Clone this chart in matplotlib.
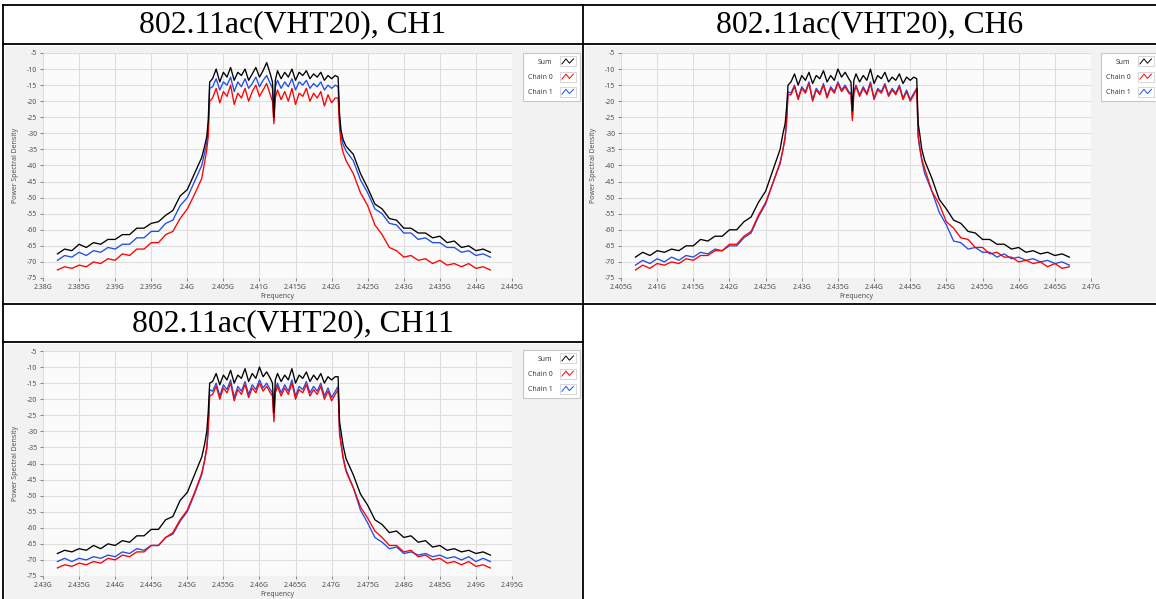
import matplotlib
matplotlib.use("Agg")
import matplotlib.pyplot as plt
from matplotlib.lines import Line2D
from matplotlib.patches import Rectangle
from matplotlib.legend_handler import HandlerBase
from matplotlib.ticker import MultipleLocator, FuncFormatter

# frequency offsets from the channel centre (MHz), shared by every trace
freq_offsets_mhz = [
    -30, -29, -28, -27, -26, -25, -24, -23, -22, -21, -20, -19, -18, -17, -16, -15, -14, -13, -12, -11, -10,
    -9.6, -9.3, -9.1, -8.9,
    -8.5, -8, -7.5, -7, -6.5, -6, -5.5, -5, -4.5, -4, -3.5, -3, -2.5, -2, -1.5, -1, -0.5,
    -0.2, 0, 0.2,
    0.5, 1, 1.5, 2, 2.5, 3, 3.5, 4, 4.5, 5, 5.5, 6, 6.5, 7, 7.5, 8, 8.5,
    8.9, 9.1, 9.3, 9.6,
    10, 11, 12, 13, 14, 15, 16, 17, 18, 19, 20, 21, 22, 23, 24, 25, 26, 27, 28, 29, 30,
]

titles = ["802.11ac(VHT20), CH1", "802.11ac(VHT20), CH6", "802.11ac(VHT20), CH11"]
centers_ghz = [2.412, 2.437, 2.462]
x_limits = [(2.38, 2.445), (2.405, 2.47), (2.43, 2.495)]
y_limits = (-75, -5)
series_names = ["Sum", "Chain 0", "Chain 1"]

# CH1
sum_ch1 = [
    -67.5, -66, -66.5, -64.5, -65.5, -64, -64.5, -63, -63, -61.5, -61.5, -59.5, -59.5, -58, -57.5, -55.5, -54, -49.5, -47.5, -42.5, -37.5,
    -34, -31, -26, -14,
    -13, -10, -14, -11, -12.5, -9.5, -13.5, -11, -12, -10, -13.5, -11.5, -9.5, -12.5, -10.5, -8, -11.5,
    -14, -25, -13.5,
    -10.5, -13, -11, -12.5, -10, -13.5, -11, -12, -10.5, -13, -11.5, -12.5, -11, -13.5, -12, -13, -12,
    -12.5, -24, -29, -32,
    -34, -36.5, -42.5, -47, -52, -53.5, -56.5, -57, -59.5, -59.5, -61, -61, -62.5, -62, -64, -63.5, -65.5, -65, -66.5, -66, -67,
]
chain0_ch1 = [
    -72.5, -71.5, -72, -71, -71.5, -70, -70.5, -69, -69.5, -67.5, -68, -66, -66, -64, -64, -61.5, -60.5, -56.5, -53.5, -49, -44,
    -39, -35, -31, -20,
    -19, -16, -20.5, -17, -18.5, -15, -21, -17.5, -19, -16, -20, -17, -15, -18.5, -16.5, -14.5, -18,
    -20, -27, -19,
    -16.5, -19.5, -17, -20, -16, -21, -17.5, -18.5, -16, -20, -17.5, -19, -17, -21.5, -18, -20.5, -19,
    -19, -28, -33, -36,
    -38.5, -42.5, -48.5, -52.5, -58.5, -61.5, -65.5, -66.5, -68.5, -68, -69.5, -69, -70.5, -69.5, -71, -70.5, -71.5, -70.5, -72, -71.5, -72.5,
]
chain1_ch1 = [
    -69.5, -68, -68.5, -67, -68, -66.5, -67, -65.5, -66, -64.5, -64.5, -62.5, -62.5, -60.5, -60.5, -58, -57, -52.5, -50, -45, -40,
    -36, -33, -28, -16,
    -15.5, -13, -16.5, -14, -15, -12.5, -17, -14, -15.5, -13, -16, -14.5, -12.5, -15.5, -13.5, -12, -14.5,
    -16, -26, -15.5,
    -13.5, -16, -14, -15.5, -13, -16.5, -14, -15, -13.5, -16, -14.5, -15.5, -14, -16.5, -15, -16, -15,
    -15.5, -26, -31, -33.5,
    -35.5, -38.5, -44.5, -48.5, -53.5, -55, -58, -58.5, -61, -61, -63, -62.5, -64, -64, -65.5, -65.5, -67, -66.5, -68, -67.5, -68.5,
]

# CH6
sum_ch6 = [
    -68.5, -67, -68, -66.5, -67, -66, -66.5, -65, -65, -63, -63.5, -62, -62, -60, -60, -57.5, -56, -51.5, -48, -41.5, -35,
    -30, -27, -22, -15,
    -14, -11.5, -15, -12, -13.5, -11, -14.5, -12, -13, -10.5, -14, -12, -13.5, -10, -12.5, -11, -13,
    -14, -23, -13.5,
    -11.5, -14, -12, -13.5, -10, -14.5, -12, -13, -11, -14, -12.5, -13.5, -11.5, -14.5, -12.5, -13.5, -12.5,
    -13, -27, -30, -35,
    -38.5, -44, -50.5, -53.5, -57, -58, -60.5, -61, -63, -63, -64.5, -64.5, -66, -65.5, -67, -66.5, -67.5, -67, -68, -67.5, -68.5,
]
chain0_ch6 = [
    -72.5, -71, -72, -70.5, -71, -70, -70.5, -69, -69.5, -68, -68, -66.5, -66.5, -64.5, -64.5, -62, -60.5, -55.5, -51.5, -45.5, -39,
    -35, -31, -26, -18,
    -18, -15.5, -19.5, -16, -17.5, -14.5, -20, -16.5, -18, -15, -19, -16, -17.5, -14.5, -17, -15.5, -17.5,
    -18, -26, -17.5,
    -15.5, -18.5, -16, -18, -14.5, -19.5, -16.5, -17.5, -15, -18.5, -16.5, -18, -15.5, -19.5, -17, -20, -18,
    -16, -31, -34, -38,
    -41, -48, -52, -57.5, -59.5, -62.5, -63, -65.5, -65.5, -67.5, -67, -68.5, -68.5, -70, -69.5, -70.5, -70, -71.5, -70.5, -72, -71.5,
]
chain1_ch6 = [
    -71, -69.5, -70.5, -69, -70, -68.5, -69.5, -68, -68.5, -67, -67.5, -66, -66.5, -65, -65, -62.5, -61, -56, -52, -45.5, -39.5,
    -35, -31.5, -26.5, -17,
    -17.5, -15, -19, -15.5, -17, -14, -19.5, -16, -17.5, -14.5, -18.5, -15.5, -17, -14, -16.5, -15, -17,
    -17.5, -25, -17,
    -15, -18, -15.5, -17.5, -14, -19, -16, -17, -14.5, -18, -16, -17.5, -15, -19, -16.5, -19.5, -17.5,
    -16, -31, -34.5, -38.5,
    -42.5, -48, -54.5, -58.5, -63.5, -64, -66, -65.5, -67, -67, -68.5, -67.5, -69, -68.5, -69.5, -69, -70, -69.5, -70.5, -70, -71,
]

# CH11
sum_ch11 = [
    -68, -67, -67.5, -66.5, -67, -65.5, -66.5, -65, -65.5, -64, -64.5, -62.5, -62.5, -60.5, -60.5, -57.5, -56.5, -51.5, -49, -43.5, -38,
    -34, -30, -24, -15,
    -14.5, -12, -15.5, -12.5, -14, -11, -15, -12.5, -13.5, -10.5, -14.5, -12, -13.5, -10, -13, -11.5, -13.5,
    -15, -24, -14,
    -12, -14.5, -12.5, -14, -10.5, -15, -12.5, -13.5, -11.5, -14.5, -12.5, -14, -12, -15, -13, -14, -13,
    -13, -27, -30, -34.5,
    -38.5, -43.5, -49.5, -53, -57.5, -59, -61.5, -61, -63, -62.5, -64.5, -64, -66, -65.5, -67, -66.5, -67.5, -67, -68, -67.5, -68.5,
]
chain0_ch11 = [
    -72.5, -71.5, -72, -71, -71.5, -70.5, -71, -69.5, -70, -68.5, -69, -67.5, -67.5, -65.5, -65.5, -63, -61.5, -57.5, -54.5, -49, -43,
    -39, -35, -29, -19,
    -18.5, -16, -20, -16.5, -18, -15, -20.5, -17, -18.5, -15.5, -19.5, -16.5, -18, -15, -17.5, -16, -18,
    -19, -27, -18,
    -16, -19, -16.5, -18.5, -15, -20, -17, -18, -15.5, -19, -17, -18.5, -16, -20, -17.5, -20.5, -18.5,
    -17, -31, -34, -38.5,
    -42.5, -47.5, -53.5, -57, -61, -63, -65.5, -65.5, -67.5, -67, -69, -68.5, -70, -69.5, -71, -70.5, -71.5, -70.5, -72, -71.5, -72.5,
]
chain1_ch11 = [
    -70.5, -69.5, -70.5, -69.5, -70, -69, -69.5, -68.5, -69, -67.5, -68, -66.5, -67, -65.5, -65.5, -63, -62, -58, -55, -49.5, -43.5,
    -39, -35.5, -29.5, -17,
    -17.5, -15, -19, -15.5, -17, -14, -19.5, -16, -17.5, -14.5, -18.5, -15.5, -17, -14, -16.5, -15, -17,
    -18, -26, -17,
    -15, -18, -15.5, -17.5, -14, -19, -16, -17, -14.5, -18, -16, -17.5, -15, -19, -16.5, -19.5, -17.5,
    -16, -30, -33.5, -38,
    -42, -47.5, -54.5, -58.5, -63, -64.5, -66.5, -66, -68, -67.5, -68.5, -68, -69, -68.5, -69.5, -69, -70, -69, -70.5, -69.5, -70.5,
]

charts = [
    (sum_ch1, chain0_ch1, chain1_ch1),
    (sum_ch6, chain0_ch6, chain1_ch6),
    (sum_ch11, chain0_ch11, chain1_ch11),
]

colors = ["#000000", "#ff0000", "#1f4de6"]
zorders = [4, 3, 2]

W, H = 1156, 599
UI_FONT = ["Noto Sans", "DejaVu Sans"]


def fx(px):
    return px / W


def fy(py):
    return 1 - py / H


class GlyphHandler(HandlerBase):
    # little boxed zigzag like the LabVIEW plot legend
    def create_artists(self, legend, orig_handle, xdescent, ydescent, width, height, fontsize, trans):
        x0, y0 = -xdescent, -ydescent
        box = Rectangle((x0, y0 - 0.2 * height), width, 1.4 * height,
                        facecolor="white", edgecolor="#d0d0d0", lw=0.6, transform=trans)
        xs = [x0 + f * width for f in (0.15, 0.4, 0.62, 0.87)]
        ys = [y0 + f * height for f in (0.15, 0.85, 0.25, 0.85)]
        zig = Line2D(xs, ys, color=orig_handle.get_color(), lw=0.7, transform=trans)
        return [box, zig]


fig = plt.figure(figsize=(W / 100, H / 100), dpi=100)
fig.patch.set_facecolor("white")

# panel rectangles (x0, y0, x1, y1) in pixels: chart background and plot area
panels = [(5, 46, 582, 302), (585, 46, 1156, 302), (5, 344, 582, 599)]
plot_areas = [(43, 53, 512, 278), (621, 53, 1091, 278), (43, 351, 512, 576)]
legend_pos = [(523, 53), (1101, 53), (523, 350)]
title_pos = [(293, 25), (870, 25), (293, 324)]

for i in range(3):
    px0, py0, px1, py1 = panels[i]
    fig.add_artist(Rectangle((fx(px0), fy(py1)), (px1 - px0) / W, (py1 - py0) / H,
                             transform=fig.transFigure, facecolor="#f2f2f2", edgecolor="none", zorder=0))
    ax0, ay0, ax1, ay1 = plot_areas[i]
    ax = fig.add_axes([fx(ax0), fy(ay1), (ax1 - ax0) / W, (ay1 - ay0) / H])
    ax.set_facecolor("#fbfbfb")

    center = centers_ghz[i]
    freqs = [center + f / 1000 for f in freq_offsets_mhz]
    for vals, name, c, z in zip(charts[i], series_names, colors, zorders):
        ax.plot(freqs, vals, color=c, lw=0.95, label=name, zorder=z)

    ax.set_xlim(*x_limits[i])
    ax.set_ylim(*y_limits)
    ax.xaxis.set_major_locator(MultipleLocator(0.005))
    ax.yaxis.set_major_locator(MultipleLocator(5))
    ax.xaxis.set_major_formatter(FuncFormatter(lambda v, p: "%gG" % round(v, 4)))
    ax.yaxis.set_major_formatter(FuncFormatter(lambda v, p: "%d" % v))
    ax.grid(True, color="#dedede", lw=0.8, zorder=0)
    ax.set_axisbelow(True)
    for s in ax.spines.values():
        s.set_visible(False)
    ax.tick_params(length=2.5, width=0.6, color="#707070", labelcolor="#505050",
                   labelsize=5, pad=1.5)
    for lab in ax.get_xticklabels() + ax.get_yticklabels():
        lab.set_family(UI_FONT)

    ax.set_xlabel("Frequency", fontsize=5, color="#505050", family=UI_FONT)
    ax.set_ylabel("Power Spectral Density", fontsize=5, color="#505050", family=UI_FONT)
    ax.xaxis.set_label_coords(0.5, -0.068)
    ax.yaxis.set_label_coords(-0.052, 0.5)

    lx, ly = legend_pos[i]
    leg = ax.legend(loc="upper left", bbox_to_anchor=(fx(lx), fy(ly)), bbox_transform=fig.transFigure,
                    borderaxespad=0, markerfirst=False, handler_map={Line2D: GlyphHandler()},
                    prop={"family": UI_FONT, "size": 5}, labelcolor="#404040",
                    handlelength=2.3, handleheight=1.2, handletextpad=1.0, labelspacing=1.05,
                    borderpad=0.7, fancybox=False, framealpha=1, edgecolor="#c8c8c8")
    leg.get_frame().set_linewidth(0.8)

    tx, ty = title_pos[i]
    fig.text(fx(tx), fy(ty), titles[i], ha="center", va="center", fontsize=22.8,
             family="Liberation Serif", color="black")

# table borders
table_lines = [
    ((3, 5), (1156, 5)),
    ((3, 44), (1156, 44)),
    ((3, 304), (1156, 304)),
    ((3, 342), (583, 342)),
    ((3, 5), (3, 599)),
    ((583, 5), (583, 599)),
]
for (x0, y0), (x1, y1) in table_lines:
    fig.add_artist(Line2D([fx(x0), fx(x1)], [fy(y0), fy(y1)], transform=fig.transFigure,
                          color="black", lw=1.3, zorder=10))

fig.savefig("out.png", dpi=100, facecolor="white")
